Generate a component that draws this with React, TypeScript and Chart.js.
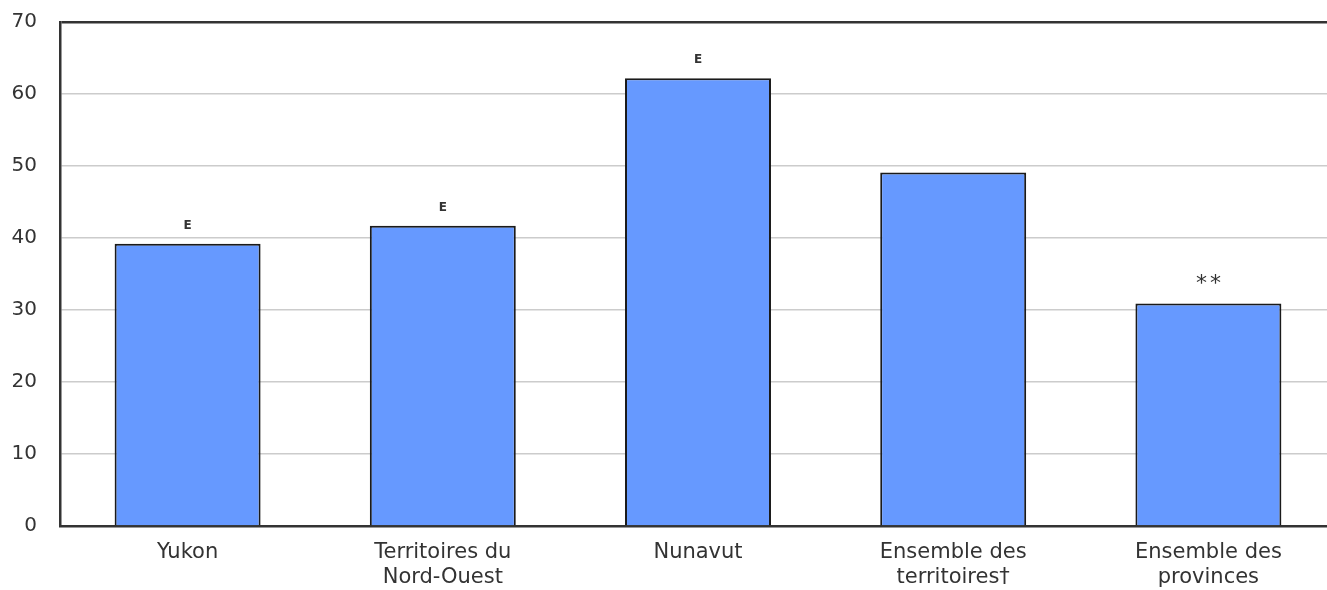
import React, { useEffect, useRef } from "react";
import { Chart, registerables } from "chart.js";

Chart.register(...registerables);

const categories: (string | string[])[] = [
  "Yukon",
  ["Territoires du", "Nord-Ouest"],
  "Nunavut",
  ["Ensemble des", "territoires†"],
  ["Ensemble des", "provinces"],
];
const values = [39.2, 41.7, 62.2, 49.1, 30.9];
const notes = ["E", "E", "E", "", "**"];
const yTicks = [0, 10, 20, 30, 40, 50, 60, 70];

const FONT = "'DejaVu Sans', Verdana, sans-serif";

const notesPlugin = {
  id: "notes",
  afterDatasetsDraw(chart: any) {
    const ctx = chart.ctx;
    const meta = chart.getDatasetMeta(0);
    ctx.save();
    ctx.fillStyle = "#333333";
    ctx.textAlign = "center";
    ctx.textBaseline = "alphabetic";
    meta.data.forEach((bar: any, i: number) => {
      const t = notes[i];
      if (!t) return;
      if (t === "E") {
        ctx.font = `bold 12px ${FONT}`;
        (ctx as any).letterSpacing = "0px";
        ctx.fillText(t, bar.x, bar.y - 15);
      } else {
        ctx.font = `22px ${FONT}`;
        (ctx as any).letterSpacing = "3px";
        ctx.fillText(t, bar.x + 1.5, bar.y - 14);
      }
    });
    ctx.restore();
  },
};

export default function App() {
  const ref = useRef<HTMLCanvasElement>(null);
  useEffect(() => {
    if (!ref.current) return;
    const chart = new Chart(ref.current, {
      type: "bar",
      data: {
        labels: categories,
        datasets: [
          {
            data: values,
            backgroundColor: "#6699FF",
            borderColor: "#1a1a1a",
            borderWidth: 2,
            barPercentage: 0.572,
            categoryPercentage: 1,
          },
        ],
      },
      options: {
        responsive: false,
        animation: false,
        layout: { padding: { top: 22, right: 4, left: 0, bottom: 0 } },
        plugins: { legend: { display: false }, tooltip: { enabled: false } },
        scales: {
          x: {
            grid: { display: false, drawTicks: false },
            border: { display: true, color: "#333333", width: 2.5 },
            ticks: {
              color: "#333333",
              font: { family: FONT, size: 21, lineHeight: 1.2 },
              padding: 14,
              maxRotation: 0,
              autoSkip: false,
            },
            afterFit: (s: any) => {
              s.height = 64;
              s.paddingLeft = 0;
              s.paddingRight = 0;
            },
          },
          y: {
            min: 0,
            max: 70,
            afterBuildTicks: (s: any) => {
              s.ticks = yTicks.map((v) => ({ value: v }));
            },
            grid: {
              drawTicks: false,
              lineWidth: (c: any) => (c.tick && c.tick.value === 70 ? 2.5 : 1.5),
              color: (c: any) => (c.tick && c.tick.value === 70 ? "#333333" : "#cccccc"),
            },
            border: { display: true, color: "#333333", width: 2.5 },
            ticks: {
              color: "#333333",
              font: { family: FONT, size: 20 },
              padding: 23,
            },
            afterFit: (s: any) => {
              s.width = 60;
              s.paddingTop = 0;
              s.paddingBottom = 0;
            },
          },
        },
      },
      plugins: [notesPlugin],
    });
    return () => chart.destroy();
  }, []);
  return (
    <div
      style={{
        position: "absolute",
        left: 0,
        top: 0,
        width: 1327,
        height: 590,
        overflow: "hidden",
        background: "#ffffff",
      }}
    >
      <canvas ref={ref} width={1340} height={590} style={{ display: "block" }} />
    </div>
  );
}
